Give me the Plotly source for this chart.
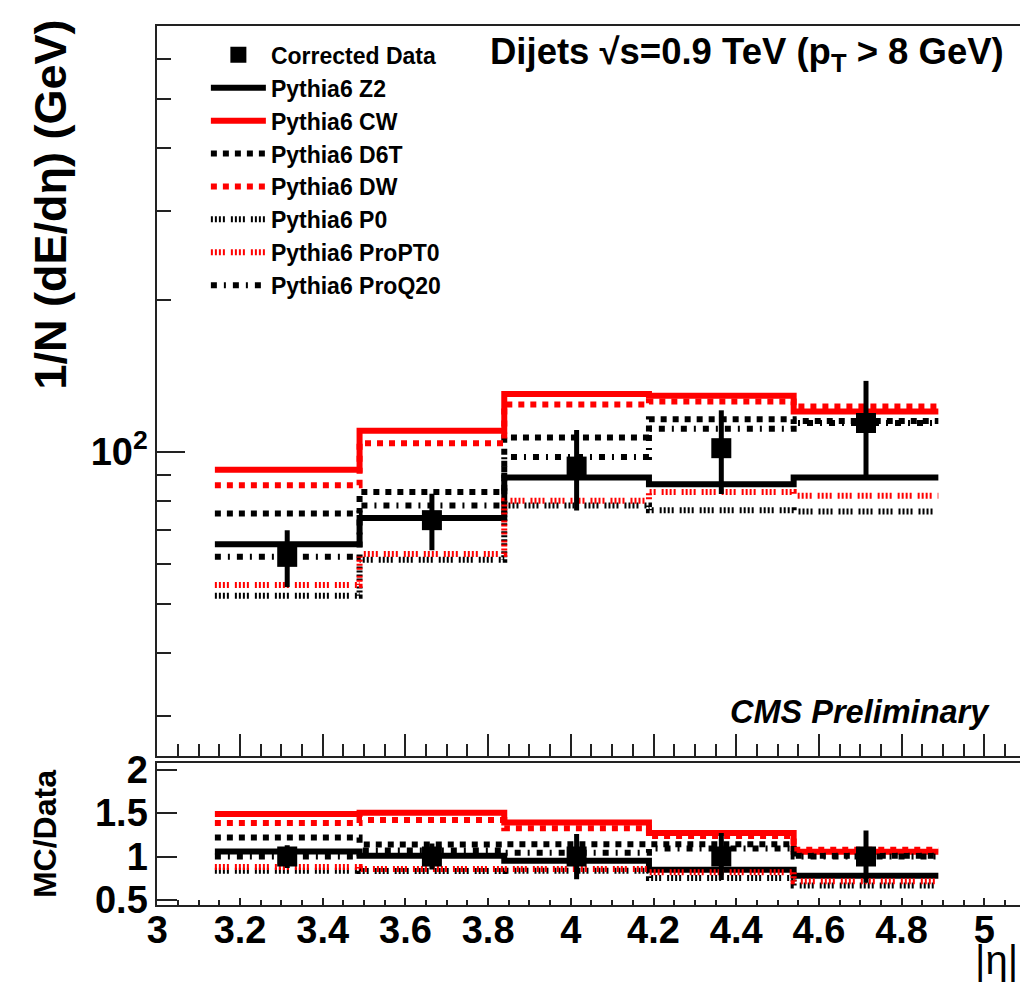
import plotly.graph_objects as go

# ---------------- data ----------------
bin_edges = [3.139, 3.489, 3.839, 4.189, 4.539, 4.889]
data_vals = [62.0, 73.3, 93.6, 101.8, 114.2]
data_errs = [8.0, 9.4, 17.0, 19.2, 24.2]
ratio_errs = [0.13, 0.15, 0.26, 0.27, 0.30]

mc_names = ["Pythia6 Z2", "Pythia6 CW", "Pythia6 D6T", "Pythia6 DW",
            "Pythia6 P0", "Pythia6 ProPT0", "Pythia6 ProQ20"]
z2 = [65.7, 74.0, 89.1, 86.4, 89.1]
cw = [92.3, 110.2, 130.4, 129.3, 120.4]
d6t = [75.6, 83.4, 106.9, 116.2, 115.2]
dw = [86.0, 104.1, 124.2, 125.9, 123.1]
p0 = [51.9, 61.2, 78.4, 76.7, 76.3]
propt0 = [54.5, 62.8, 80.1, 83.4, 81.9]
proq20 = [62.0, 78.4, 97.8, 111.2, 114.2]
mc_series = [z2, cw, d6t, dw, p0, propt0, proq20]

x_tick_vals = [3.0, 3.2, 3.4, 3.6, 3.8, 4.0, 4.2, 4.4, 4.6, 4.8, 5.0]
x_tick_text = ["3", "3.2", "3.4", "3.6", "3.8", "4", "4.2", "4.4", "4.6", "4.8", "5"]
y_tick_vals = [100]
y_tick_text = ["10<sup>2</sup>"]
y_minor_vals = [30, 40, 50, 60, 70, 80, 90, 200, 300, 400, 500, 600, 700]
r_tick_vals = [0.5, 1.0, 1.5, 2.0]
r_tick_text = ["0.5", "1", "1.5", "2"]

# ---------------- styles ----------------
RED = "#ff0000"
BLK = "#000000"
styles = [
    dict(color=BLK, dash="solid"),
    dict(color=RED, dash="solid"),
    dict(color=BLK, dash="6px,6px"),
    dict(color=RED, dash="6px,6px"),
    dict(color=BLK, dash="2px,2px,2px,2px,2px,2px,2px,6px"),
    dict(color=RED, dash="2px,2px,2px,2px,2px,2px,2px,6px"),
    dict(color=BLK, dash="6px,7px,2px,7px"),
]

FONT = "Liberation Sans"
W, H = 1020, 994


def px(xr):
    return xr / W


def py(yr):
    return 1 - yr / H


centers = [(bin_edges[i] + bin_edges[i + 1]) / 2 for i in range(len(data_vals))]

fig = go.Figure()

for i, (name, vals) in enumerate(zip(mc_names, mc_series)):
    st = styles[i]
    fig.add_trace(go.Scatter(
        x=bin_edges, y=vals + [vals[-1]], mode="lines", line_shape="hv",
        line=dict(color=st["color"], dash=st["dash"], width=6),
        name=name, legendrank=10 + i, legendgroup=name,
        xaxis="x", yaxis="y"))
    ratio = [v / d for v, d in zip(vals, data_vals)]
    fig.add_trace(go.Scatter(
        x=bin_edges, y=ratio + [ratio[-1]], mode="lines", line_shape="hv",
        line=dict(color=st["color"], dash=st["dash"], width=6),
        showlegend=False, legendgroup=name,
        xaxis="x2", yaxis="y2"))

fig.add_trace(go.Scatter(
    x=centers, y=data_vals, mode="markers",
    marker=dict(symbol="square", size=20, color=BLK),
    error_y=dict(type="data", array=data_errs, thickness=5, width=0, color=BLK),
    name="Corrected Data", legendrank=1, legendgroup="data",
    xaxis="x", yaxis="y"))
fig.add_trace(go.Scatter(
    x=centers, y=[1.0] * len(data_vals), mode="markers",
    marker=dict(symbol="square", size=20, color=BLK),
    error_y=dict(type="data", array=ratio_errs, thickness=5, width=0, color=BLK),
    showlegend=False, xaxis="x2", yaxis="y2"))

xdom = [px(148), 1.0]
xrng = [3.0, 5.0865]
axcol = "#222222"
tickfont_big = dict(family=FONT, size=38, color=BLK, weight="bold")

fig.update_layout(
    width=W, height=H, margin=dict(l=0, r=0, t=0, b=0),
    paper_bgcolor="white", plot_bgcolor="white",
    showlegend=True,
    legend=dict(x=px(197), y=py(20), xanchor="left", yanchor="top",
                bgcolor="rgba(0,0,0,0)", font=dict(family=FONT, size=23, color=BLK, weight="bold"),
                tracegroupgap=0, itemwidth=55),
    xaxis=dict(domain=xdom, anchor="y", range=xrng, showticklabels=False,
               tickmode="array", tickvals=x_tick_vals, ticks="inside", ticklen=22, tickwidth=2,
               tickcolor=axcol, minor=dict(dtick=0.05, tick0=3.0, ticks="inside", ticklen=12,
                                           tickwidth=2, tickcolor=axcol, showgrid=False),
               showline=True, linecolor=axcol, linewidth=2, mirror=True,
               showgrid=False, zeroline=False),
    yaxis=dict(domain=[py(765), py(12)], anchor="x", type="log",
               range=[1.39794, 2.845098], tickmode="array", tickvals=y_tick_vals,
               ticktext=y_tick_text, ticks="inside", ticklen=28, tickwidth=2, tickcolor=axcol,
               minor=dict(tickmode="array", tickvals=y_minor_vals, ticks="inside", ticklen=14,
                          tickwidth=2, tickcolor=axcol, showgrid=False),
               tickfont=dict(family=FONT, size=38, color=BLK, weight="bold"),
               showline=True, linecolor=axcol, linewidth=2, showgrid=False, zeroline=False),
    xaxis2=dict(domain=xdom, anchor="y2", range=xrng, matches="x",
                tickmode="array", tickvals=x_tick_vals, ticktext=x_tick_text,
                ticks="inside", ticklen=7, tickwidth=2, tickcolor=axcol,
                minor=dict(dtick=0.05, tick0=3.0, ticks="inside", ticklen=5,
                           tickwidth=2, tickcolor=axcol, showgrid=False),
                tickfont=tickfont_big, ticklabelstandoff=-10,
                showline=True, linecolor=axcol, linewidth=2, mirror=True,
                showgrid=False, zeroline=False),
    yaxis2=dict(domain=[py(919), py(772)], anchor="x2", range=[0.44, 2.08],
                tickmode="array", tickvals=r_tick_vals, ticktext=r_tick_text,
                ticks="inside", ticklen=20, tickwidth=2, tickcolor=axcol,
                tickfont=dict(family=FONT, size=38, color=BLK, weight="bold"),
                showline=True, linecolor=axcol, linewidth=2, showgrid=False, zeroline=False),
)

ann = [
    dict(text="1/N (dE/d\u03b7) (GeV)", x=px(40), y=py(4), xanchor="center", yanchor="top",
         textangle=-90, font=dict(family=FONT, size=45, color=BLK, weight="bold")),
    dict(text="MC/Data", x=px(35), y=py(846), xanchor="center", yanchor="middle",
         textangle=-90, font=dict(family=FONT, size=32, color=BLK, weight="bold")),
    dict(text="Dijets \u221as=0.9 TeV (p<sub>T</sub> > 8 GeV)", x=px(1006), y=py(41),
         xanchor="right", yanchor="middle",
         font=dict(family=FONT, size=36.5, color=BLK, weight="bold")),
    dict(text="<i>CMS Preliminary</i>", x=px(992), y=py(720), xanchor="right", yanchor="middle",
         font=dict(family=FONT, size=32.5, color=BLK, weight="bold")),
    dict(text="|\u03b7|", x=1.0, y=py(975), xanchor="right", yanchor="middle",
         font=dict(family=FONT, size=40, color=BLK)),
]
for a in ann:
    a.update(xref="paper", yref="paper", showarrow=False)
fig.update_layout(annotations=ann)

fig.write_html(
    "out.html",
    post_script=("document.documentElement.style.margin='0px';"
                 "document.body.style.margin='0px';"
                 "document.body.style.padding='0px';"),
)
